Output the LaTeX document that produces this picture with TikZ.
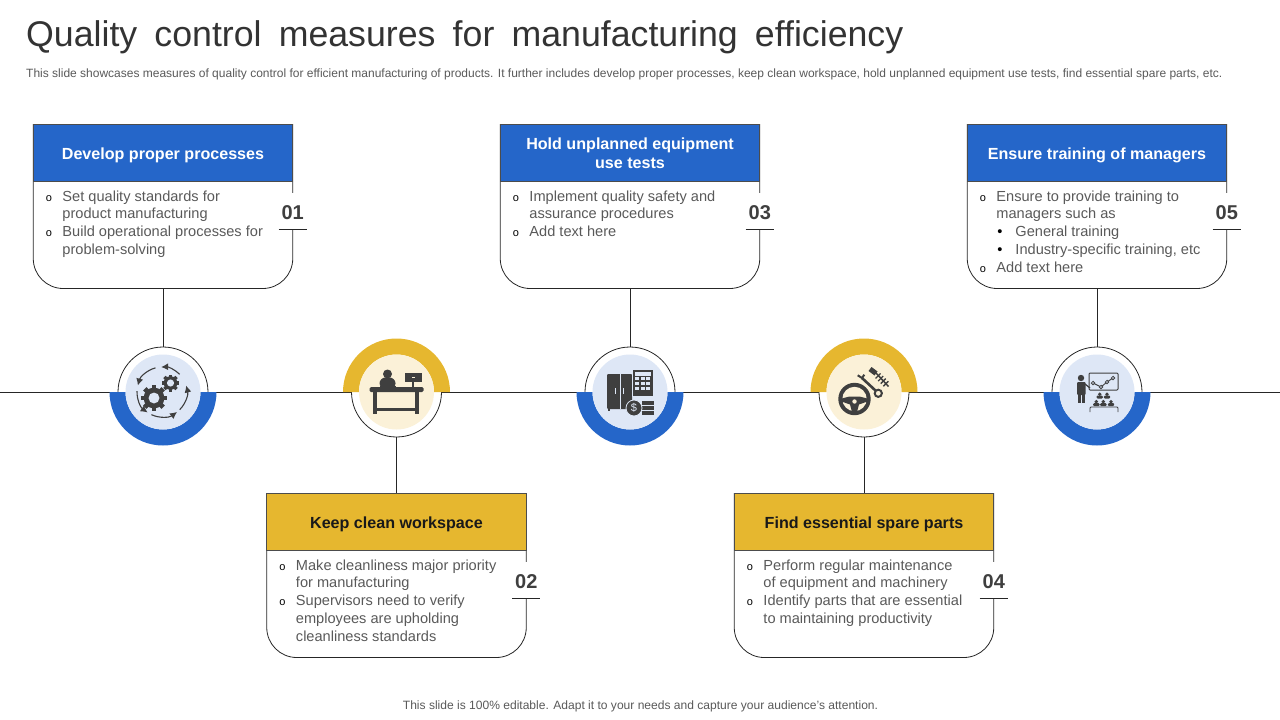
\documentclass[tikz,border=0pt]{standalone}
\usepackage{fontspec}
\setmainfont{Liberation Sans}
\usepackage{tikz}
\usetikzlibrary{arrows.meta}
\usetikzlibrary{positioning}

\definecolor{headblue}{HTML}{2566C9}
\definecolor{headyellow}{HTML}{E6B72F}
\definecolor{paleblue}{HTML}{DEE7F6}
\definecolor{paleyellow}{HTML}{FBF1D8}
\definecolor{icongrey}{HTML}{3F3F3F}
\definecolor{bodygrey}{HTML}{595959}
\definecolor{titlegrey}{HTML}{333333}

\tikzset{
  cardbox/.style={minimum width=259.5pt, minimum height=164.5pt, inner sep=0pt, outer sep=0pt},
  cardline/.style={draw=black!85, line width=0.8pt},
  headbox/.style={draw=black!70, line width=0.6pt, fill=#1, minimum width=259.5pt, minimum height=57.5pt,
    inner sep=0pt, outer sep=0pt, align=center, font=\fontsize{16.1}{19}\selectfont\bfseries},
  cardtext/.style={anchor=north west, inner sep=0pt, align=left, text=bodygrey,
    font=\fontsize{14.6}{17.7}\selectfont},
  numbox/.style={fill=white, minimum width=28pt, minimum height=36pt, inner sep=0pt,
    text height=16pt, text depth=0pt, text=icongrey, font=\fontsize{20}{20}\selectfont\bfseries},
  hubcircle/.style={circle, draw=black!85, line width=0.8pt, fill=white, minimum size=90pt, inner sep=0pt},
}

\newcommand{\bul}{\llap{\fontsize{11}{11}\selectfont\textcolor{black}{o}\hspace{10.5pt}}}
\newcommand{\subbul}{\hspace*{19pt}\llap{\textcolor{black}{•}\hspace{13pt}}}
\newcommand{\headdrop}{\rule{0pt}{17.5pt}}

% id, centre x, top y, head colour, text colour, head text, body
\newcommand{\drawcard}[7]{
  \node[cardbox, anchor=north] (card#1) at (#2,#3) {};
  \draw[cardline, rounded corners=30pt] (card#1.north west) -- (card#1.south west)
    -- (card#1.south east) -- (card#1.north east);
  \node[headbox=#4, anchor=north, text=#5] (head#1) at (card#1.north) {#6};
  \node[numbox] (num#1) at ([yshift=-87pt]card#1.north east) {0#1};
  \draw[cardline] (num#1.south west) -- (num#1.south east);
  \node[cardtext] (text#1) at ([xshift=29pt,yshift=-66.5pt]card#1.north west) {#7};
}

% id, x, ring colour, pale colour, start angle
\newcommand{\drawhub}[5]{
  \node[hubcircle] (hub#1) at (#2,-392) {};
  \fill[#3] ([shift={(#5:53.5pt)}]hub#1.center) arc (#5:#5+180:53.5pt)
    -- ([shift={(#5+180:37.5pt)}]hub#1.center) arc (#5+180:#5:37.5pt) -- cycle;
  \fill[#4] (hub#1.center) circle (37.5pt);
}

\newcommand{\gearicon}[3]{
  \fill[icongrey] (#1,#2) circle (#3*0.8pt);
  \foreach \a in {0,45,...,315}{
    \fill[icongrey, shift={(#1,#2)}, rotate=\a] (-#3*0.19pt,0) rectangle (#3*0.19pt,#3*1pt);
  }
  \fill[paleblue] (#1,#2) circle (#3*0.42pt);
}

\newcommand{\viewer}[2]{
  \fill[icongrey] (#1,#2+4.3) circle (1.9pt);
  \fill[icongrey, rounded corners=1pt] (#1-3.2,#2) rectangle (#1+3.2,#2+2.8);
}

\begin{document}
\begin{tikzpicture}[x=1pt,y=1pt]
  \useasboundingbox (0,0) rectangle (1280,-720);

  \node[anchor=base west, inner sep=0pt, text=titlegrey, font=\fontsize{35.7}{37}\selectfont] (slidetitle) at (26,-46)
    {\spaceskip=17.2pt Quality control measures for manufacturing efficiency};
  \node[anchor=base west, inner sep=0pt, text=bodygrey, font=\fontsize{12}{12}\selectfont] (slidesub) at (26,-77)
    {This slide showcases measures of quality control for efficient manufacturing of products. It further includes develop proper processes, keep clean workspace, hold unplanned equipment use tests, find essential spare parts, etc.};
  \node[anchor=base, inner sep=0pt, text=bodygrey, font=\fontsize{12.05}{12}\selectfont] (slidefoot) at (640.5,-709)
    {This slide is 100\% editable. Adapt it to your needs and capture your audience’s attention.};

  \coordinate (lineleft) at (0,-392);
  \coordinate (lineright) at (1280,-392);
  \draw[line width=0.9pt, black!85] (lineleft) -- (lineright);

  \drawcard{1}{163}{-124}{headblue}{white}{\headdrop Develop proper processes}
    {\bul Set quality standards for\\product manufacturing\\\bul Build operational processes for\\problem-solving}
  \drawcard{2}{396.5}{-493}{headyellow}{black!90}{\headdrop Keep clean workspace}
    {\bul Make cleanliness major priority\\for manufacturing\\\bul Supervisors need to verify\\employees are upholding\\cleanliness standards}
  \drawcard{3}{630}{-124}{headblue}{white}{Hold unplanned equipment\\use tests}
    {\bul Implement quality safety and\\assurance procedures\\\bul Add text here}
  \drawcard{4}{864}{-493}{headyellow}{black!90}{\headdrop Find essential spare parts}
    {\bul Perform regular maintenance\\of equipment and machinery\\\bul Identify parts that are essential\\to maintaining productivity}
  \drawcard{5}{1097}{-124}{headblue}{white}{\headdrop Ensure training of managers}
    {\bul Ensure to provide training to\\managers such as\\\subbul General training\\\subbul Industry-specific training, etc\\\bul Add text here}

  \drawhub{1}{163}{headblue}{paleblue}{180}
  \drawhub{2}{396.5}{headyellow}{paleyellow}{0}
  \drawhub{3}{630}{headblue}{paleblue}{180}
  \drawhub{4}{864}{headyellow}{paleyellow}{0}
  \drawhub{5}{1097}{headblue}{paleblue}{180}

  \draw[cardline] (card1.south) -- (hub1.north);
  \draw[cardline] (hub2.south) -- (card2.north);
  \draw[cardline] (card3.south) -- (hub3.north);
  \draw[cardline] (hub4.south) -- (card4.north);
  \draw[cardline] (card5.south) -- (hub5.north);

  % gears
  \begin{scope}[shift={(hub1.center)}]
    \gearicon{-9}{-6}{13}
    \gearicon{7.5}{9}{8.5}
    \foreach \a/\b in {45/92, 105/165, 178/235, 245/307, -45/15}{
      \draw[-{Latex[length=7pt,width=7pt]}, line width=1.1pt, icongrey, shift={(-1,0)}] (\a:25pt) arc (\a:\b:25pt);
    }
  \end{scope}

  % desk
  \begin{scope}[shift={(hub2.center)}]
    \fill[icongrey, rounded corners=1.5pt] (-27,0) rectangle (27,5);
    \fill[icongrey] (-24,0) rectangle (-20,-22);
    \fill[icongrey] (18,0) rectangle (22,-22);
    \fill[icongrey] (-20,-15.5) rectangle (18,-19);
    \fill[icongrey] (-9,18) circle (4.5pt);
    \fill[icongrey, rounded corners=6pt] (-17,3) -- (-17,14.5) -- (-1,14.5) -- (-1,3) -- cycle;
    \fill[icongrey] (-17,3) rectangle (-1,6);
    \fill[icongrey] (8,10.5) rectangle (25.5,19.5);
    \fill[icongrey] (15.5,5) rectangle (17.5,10.5);
    \fill[paleyellow] (15.5,14) rectangle (18,15.5);
  \end{scope}

  % cabinet, calculator, coins
  \begin{scope}[shift={(hub3.center)}]
    \fill[icongrey, rounded corners=1pt] (-23,18) rectangle (2,-17);
    \fill[icongrey] (-22,-17) rectangle (-20.5,-19);
    \draw[paleblue, line width=0.7pt] (-10,18) -- (-10,-17);
    \fill[paleblue] (-15,4) rectangle (-14,-2);
    \fill[paleblue] (-7.5,4) rectangle (-6.5,-2);
    \fill[paleblue] (2,23) rectangle (24,-5);
    \fill[icongrey] (3,22) rectangle (23,-4);
    \fill[paleblue] (5,20) rectangle (21,16);
    \foreach \kx in {5,10.5,16}{
      \foreach \ky in {12,7,2}{
        \fill[paleblue] (\kx,\ky) rectangle (\kx+4,\ky+3);
      }
    }
    \fill[icongrey] (12,-9) rectangle (24,-12.5);
    \fill[icongrey] (12,-14) rectangle (24,-17.5);
    \fill[icongrey] (12,-19) rectangle (24,-22.5);
    \fill[icongrey, draw=paleblue, line width=0.8pt] (4,-16) circle (8pt);
    \node[text=paleblue, inner sep=0pt, font=\fontsize{11}{11}\selectfont] (dollar) at (4,-16) {\$};
  \end{scope}

  % steering wheel, wrench, shock absorber
  \begin{scope}[shift={(hub4.center)}]
    \begin{scope}[shift={(-9.5,-7)}]
      \fill[icongrey] (0,0) circle (16.2pt);
      \fill[paleyellow] (0,0) circle (12.2pt);
      \fill[icongrey] (-13,0.5) -- (-5,2.5) -- (5,2.5) -- (13,0.5) -- (13,-2.5) -- (4.5,-5.5) -- (2.5,-13)
        -- (-2.5,-13) -- (-4.5,-5.5) -- (-13,-2.5) -- cycle;
      \fill[paleyellow] (0,-2.5) circle (2.2pt);
    \end{scope}
    \draw[icongrey, line width=2.6pt] (-2,14) -- (12,1);
    \draw[icongrey, line width=2pt] (14.3,-1.3) circle (3.6pt);
    \draw[icongrey, line width=2pt] (-6.3,16.7) -- (-2,14) -- (0.3,17.3);
    \draw[icongrey, line width=5pt] (6,23) -- (12,18.5);
    \draw[icongrey, line width=1.5pt] (12,19) -- (24.5,5.5);
    \foreach \t in {0,2.6,5.2,7.8}{
      \draw[icongrey, line width=1.3pt] (11.5+\t,13.5-\t) -- (16.5+\t,18.5-\t);
    }
  \end{scope}

  % presenter, board, audience
  \begin{scope}[shift={(hub5.center)}]
    \fill[icongrey] (-16,14) circle (3.2pt);
    \fill[icongrey, rounded corners=1pt] (-20,10) rectangle (-11.5,-3);
    \fill[icongrey] (-19,-3) rectangle (-16,-11);
    \fill[icongrey] (-15.5,-3) rectangle (-12.5,-11);
    \draw[icongrey, line width=1.2pt] (-12,8) -- (-7,4);
    \draw[icongrey, line width=1pt, rounded corners=1pt] (-8,19) rectangle (21,2);
    \draw[icongrey, line width=0.9pt] (-4,9) -- (4,5) -- (10,10) -- (16,14);
    \foreach \px/\py in {-4/9, 4/5, 10/10, 16/14}{
      \fill[paleblue, draw=icongrey, line width=0.8pt] (\px,\py) circle (1.7pt);
    }
    \viewer{2.7}{-6.5}
    \viewer{10}{-6.5}
    \viewer{-0.7}{-14}
    \viewer{6.3}{-14}
    \viewer{14}{-14}
    \draw[icongrey, line width=0.8pt, rounded corners=1pt] (-7,-20) -- (-7,-15) -- (21,-15) -- (21,-20);
  \end{scope}
\end{tikzpicture}
\end{document}
